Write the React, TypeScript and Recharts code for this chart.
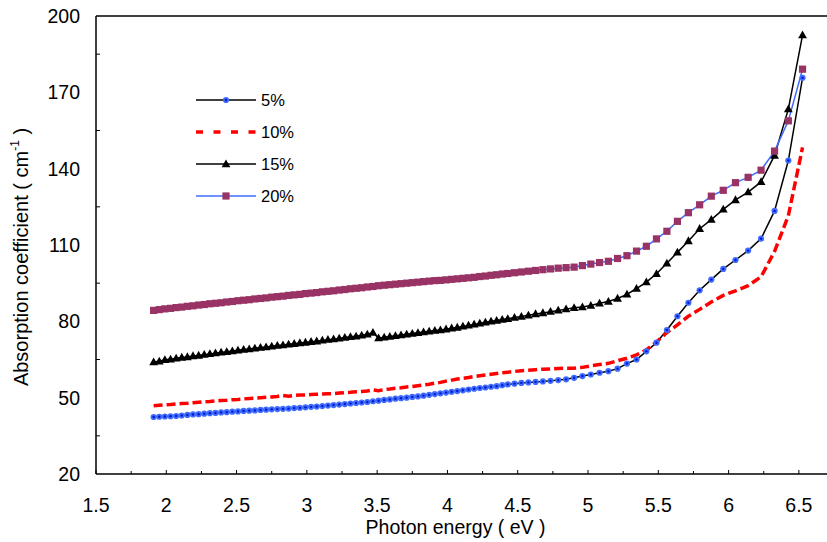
import React from 'react';
import { LineChart, Line, XAxis, YAxis, ReferenceLine } from 'recharts';

const FONT = '"Liberation Sans", Arial, Helvetica, sans-serif';

// photon energy (eV) of each measured point
const ENERGY = [
  1.91, 1.95, 1.99, 2.03, 2.07, 2.11, 2.15, 2.19, 2.23, 2.27,
  2.31, 2.35, 2.39, 2.43, 2.47, 2.51, 2.55, 2.59, 2.63, 2.67,
  2.71, 2.75, 2.79, 2.83, 2.87, 2.91, 2.95, 2.99, 3.03, 3.07,
  3.11, 3.15, 3.19, 3.23, 3.27, 3.31, 3.35, 3.39, 3.43, 3.47,
  3.51, 3.55, 3.59, 3.63, 3.67, 3.71, 3.75, 3.79, 3.83, 3.87,
  3.91, 3.95, 3.99, 4.03, 4.07, 4.11, 4.15, 4.19, 4.23, 4.27,
  4.31, 4.35, 4.39,
  4.429, 4.477, 4.526, 4.576, 4.627, 4.679, 4.733, 4.788, 4.844, 4.901,
  4.960, 5.020, 5.082, 5.145, 5.210, 5.277, 5.345, 5.415, 5.487, 5.561,
  5.636, 5.714, 5.794, 5.877, 5.962, 6.049, 6.139, 6.231, 6.327, 6.425,
  6.526,
];

const ABS_5 = [
  42.4, 42.5, 42.6, 42.7, 42.8, 43.0, 43.2, 43.4, 43.5, 43.7,
  43.9, 44.0, 44.2, 44.3, 44.5, 44.6, 44.8, 44.9, 45.0, 45.2,
  45.3, 45.4, 45.5, 45.6, 45.7, 45.9, 46.0, 46.2, 46.4, 46.5,
  46.7, 46.9, 47.1, 47.3, 47.5, 47.7, 47.9, 48.1, 48.3, 48.6,
  48.8, 49.1, 49.3, 49.6, 49.8, 50.0, 50.3, 50.5, 50.8, 51.1,
  51.4, 51.7, 52.0, 52.3, 52.6, 52.9, 53.2, 53.5, 53.8, 54.0,
  54.3, 54.5, 54.9,
  55.2, 55.5, 55.8, 56.0, 56.2, 56.4, 56.6, 56.9, 57.2, 57.8,
  58.5, 59.1, 59.8, 60.4, 61.4, 63.4, 65.0, 68.2, 71.6, 76.6,
  82.0, 87.3, 92.2, 96.4, 100.6, 104.1, 107.8, 112.5, 123.4, 143.2,
  175.7,
];

const ABS_10 = [
  46.8, 47.0, 47.2, 47.3, 47.5, 47.7, 47.8, 48.0, 48.2, 48.4,
  48.5, 48.7, 48.9, 49.0, 49.2, 49.3, 49.5, 49.7, 49.8, 50.0,
  50.2, 50.3, 50.5, 50.9, 50.6, 50.9, 51.0, 51.1, 51.2, 51.3,
  51.4, 51.5, 51.6, 51.8, 52.0, 52.1, 52.3, 52.4, 52.6, 53.1,
  52.7, 53.2, 53.4, 53.7, 53.9, 54.2, 54.4, 54.7, 55.0, 55.3,
  55.7, 56.0, 56.5, 56.9, 57.3, 57.6, 57.9, 58.3, 58.6, 58.9,
  59.2, 59.5, 59.8,
  60.0, 60.3, 60.6, 60.8, 61.0, 61.2, 61.3, 61.5, 61.6, 61.6,
  61.9, 62.5, 63.0, 63.5, 64.5, 65.5, 66.8, 68.8, 71.9, 75.6,
  78.6, 82.0, 84.7, 87.6, 90.2, 92.0, 94.0, 97.5, 107.5, 121.5,
  148.4,
];

const ABS_15 = [
  64.0, 64.3, 64.9, 65.1, 65.5, 65.8, 66.0, 66.4, 66.6, 66.9,
  67.2, 67.5, 67.8, 68.0, 68.3, 68.6, 68.9, 69.1, 69.4, 69.7,
  69.9, 70.2, 70.5, 70.7, 71.0, 71.2, 71.5, 71.7, 72.0, 72.2,
  72.5, 72.8, 73.0, 73.3, 73.6, 73.9, 74.1, 74.5, 74.9, 75.6,
  73.4, 73.7, 74.0, 74.3, 74.6, 74.9, 75.2, 75.5, 75.8, 76.1,
  76.4, 76.6, 76.9, 77.3, 77.6, 78.0, 78.4, 78.8, 79.2, 79.6,
  80.0, 80.3, 80.7,
  81.0, 81.5, 81.9, 82.4, 82.9, 83.3, 83.8, 84.3, 84.8, 85.3,
  85.6, 86.2, 87.1, 87.8, 89.0, 90.6, 92.9, 95.4, 98.7, 102.8,
  107.1, 111.6, 116.4, 120.0, 124.0, 127.7, 130.8, 134.8, 145.2, 163.4,
  192.5,
];

const ABS_20 = [
  84.3, 84.6, 84.9, 85.1, 85.4, 85.6, 85.9, 86.1, 86.4, 86.6,
  86.9, 87.1, 87.3, 87.6, 87.8, 88.1, 88.3, 88.5, 88.8, 89.0,
  89.2, 89.5, 89.7, 89.9, 90.2, 90.4, 90.6, 90.9, 91.1, 91.3,
  91.6, 91.8, 92.0, 92.3, 92.5, 92.8, 93.0, 93.2, 93.5, 93.7,
  94.0, 94.2, 94.4, 94.6, 94.8, 95.0, 95.2, 95.4, 95.6, 95.8,
  96.0, 96.1, 96.3, 96.5, 96.7, 96.9, 97.1, 97.3, 97.6, 97.8,
  98.1, 98.3, 98.6,
  98.8, 99.1, 99.4, 99.7, 100.0, 100.3, 100.6, 100.9, 101.1, 101.3,
  101.9, 102.5, 103.1, 103.6, 104.7, 105.8, 107.6, 109.5, 112.4, 115.4,
  119.3, 122.7, 125.8, 129.2, 131.5, 134.5, 136.6, 139.4, 146.9, 158.8,
  179.1,
];

const X_TICKS = [1.5, 1.75, 2, 2.25, 2.5, 2.75, 3, 3.25, 3.5, 3.75, 4, 4.25, 4.5, 4.75, 5, 5.25, 5.5, 5.75, 6, 6.25, 6.5];
const X_LABELS = ['1.5', '2', '2.5', '3', '3.5', '4', '4.5', '5', '5.5', '6', '6.5'];
const Y_TICKS = [20, 35, 50, 65, 80, 95, 110, 125, 140, 155, 170, 185, 200];
const Y_LABELS = ['20', '50', '80', '110', '140', '170', '200'];

const SERIES_NAMES = ['5%', '10%', '15%', '20%'];

const data = ENERGY.map((e, i) => ({
  e,
  s5: ABS_5[i],
  s10: ABS_10[i],
  s15: ABS_15[i],
  s20: ABS_20[i],
}));

// markers
const BlueDot = ({ cx, cy }: any) => (
  <g>
    <circle cx={cx} cy={cy} r={3.1} fill="#3f6cff" />
    <circle cx={cx} cy={cy} r={1.2} fill="#0018c8" />
  </g>
);
const Triangle = ({ cx, cy }: any) => (
  <path d={`M${cx},${cy - 4.6} L${cx + 4.4},${cy + 3.2} L${cx - 4.4},${cy + 3.2} Z`} fill="#000" />
);
const Square = ({ cx, cy }: any) => (
  <rect x={cx - 3.6} y={cy - 3.6} width={7.2} height={7.2} fill="#993366" />
);

const renderBlue = (p: any) => <BlueDot key={`b-${p.index}`} cx={p.cx} cy={p.cy} />;
const renderTri = (p: any) => <Triangle key={`t-${p.index}`} cx={p.cx} cy={p.cy} />;
const renderSq = (p: any) => <Square key={`s-${p.index}`} cx={p.cx} cy={p.cy} />;

const XTick = ({ x, y, payload }: any) => {
  const v = payload.value;
  const major = X_LABELS.includes(String(v));
  const axisY = y - 31;
  return (
    <g>
      <line x1={x} x2={x} y1={axisY} y2={axisY - (major ? 4 : 3)} stroke="#000" strokeWidth={1} />
      {major && (
        <text x={x} y={y} dy="0.36em" textAnchor="middle" fontFamily={FONT} fontSize={19.5} fill="#000">
          {String(v)}
        </text>
      )}
    </g>
  );
};

const YTick = ({ x, y, payload }: any) => {
  const v = payload.value;
  const major = Y_LABELS.includes(String(v));
  const axisX = x + 16;
  return (
    <g>
      {!major && <line x1={axisX} x2={axisX + 4} y1={y} y2={y} stroke="#000" strokeWidth={1} />}
      {major && (
        <text x={x} y={y} dy="0.36em" textAnchor="end" fontFamily={FONT} fontSize={19.5} fill="#000">
          {String(v)}
        </text>
      )}
    </g>
  );
};

const YTitle = ({ viewBox }: any) => {
  const cx = (viewBox?.x ?? 0) + 21;
  const cy = (viewBox?.y ?? 16) + (viewBox?.height ?? 458) / 2 + 12;
  return (
    <text
      x={cx}
      y={cy}
      transform={`rotate(-90 ${cx} ${cy})`}
      textAnchor="middle"
      dy="0.36em"
      fontFamily={FONT}
      fontSize={20}
      fill="#000"
    >
      Absorption coefficient ( cm
      <tspan fontSize={12} dy="-0.75em">-1</tspan>
      <tspan dy="0.45em"> )</tspan>
    </text>
  );
};

const XTitle = ({ viewBox }: any) => {
  const cx = (viewBox?.x ?? 96) + (viewBox?.width ?? 731) / 2 - 6;
  const cy = (viewBox?.y ?? 474) + 53;
  return (
    <text x={cx} y={cy} dy="0.36em" textAnchor="middle" fontFamily={FONT} fontSize={19.5} fill="#000">
      Photon energy ( eV )
    </text>
  );
};

const LegendBox = () => (
  <svg width={130} height={130} style={{ overflow: 'visible', display: 'block' }}>
    {SERIES_NAMES.map((name, i) => {
      const y = 12 + i * 32;
      return (
        <g key={name}>
          {i === 0 && (
            <>
              <line x1={6} x2={66} y1={y} y2={y} stroke="#000" strokeWidth={1.5} />
              <BlueDot cx={36} cy={y} />
            </>
          )}
          {i === 1 && (
            <line x1={6} x2={66} y1={y} y2={y} stroke="#ff0000" strokeWidth={3.5} strokeDasharray="7 10.5" />
          )}
          {i === 2 && (
            <>
              <line x1={6} x2={66} y1={y} y2={y} stroke="#000" strokeWidth={1.5} />
              <Triangle cx={36} cy={y} />
            </>
          )}
          {i === 3 && (
            <>
              <line x1={6} x2={66} y1={y} y2={y} stroke="#3f6cff" strokeWidth={1.5} />
              <Square cx={36} cy={y} />
            </>
          )}
          <text x={71} y={y} dy="0.36em" fontFamily={FONT} fontSize={16.5} fill="#000">
            {name}
          </text>
        </g>
      );
    })}
  </svg>
);

export default function App() {
  return (
    <div style={{ position: 'relative', width: 827, height: 542, background: '#fff' }}>
      <style>{'body{margin:0;overflow:hidden}'}</style>
      <LineChart width={827} height={542} data={data} margin={{ top: 16, right: 0, left: 0, bottom: 0 }}>
        <XAxis
          dataKey="e"
          type="number"
          domain={[1.5, 6.7]}
          ticks={X_TICKS}
          interval={0}
          height={68}
          tickSize={0}
          tickMargin={31}
          tickLine={false}
          axisLine={{ stroke: '#000', strokeWidth: 1.5 }}
          tick={<XTick />}
          label={<XTitle />}
        />
        <YAxis
          type="number"
          domain={[20, 200]}
          ticks={Y_TICKS}
          interval={0}
          width={96}
          tickSize={0}
          tickMargin={16}
          tickLine={false}
          axisLine={{ stroke: '#000', strokeWidth: 1.5 }}
          tick={<YTick />}
          label={<YTitle />}
        />
        <ReferenceLine y={200} stroke="#000" strokeWidth={1.5} ifOverflow="visible" />
        <Line
          dataKey="s5"
          name="5%"
          stroke="#000"
          strokeWidth={1.5}
          dot={renderBlue}
          activeDot={false}
          isAnimationActive={false}
        />
        <Line
          dataKey="s10"
          name="10%"
          stroke="#ff0000"
          strokeWidth={3.5}
          strokeDasharray="9 4"
          dot={false}
          activeDot={false}
          isAnimationActive={false}
        />
        <Line
          dataKey="s15"
          name="15%"
          stroke="#000"
          strokeWidth={1.5}
          dot={renderTri}
          activeDot={false}
          isAnimationActive={false}
        />
        <Line
          dataKey="s20"
          name="20%"
          stroke="#3f6cff"
          strokeWidth={1.5}
          dot={renderSq}
          activeDot={false}
          isAnimationActive={false}
        />
      </LineChart>
      <div style={{ position: 'absolute', left: 190, top: 88 }}>
        <LegendBox />
      </div>
    </div>
  );
}
